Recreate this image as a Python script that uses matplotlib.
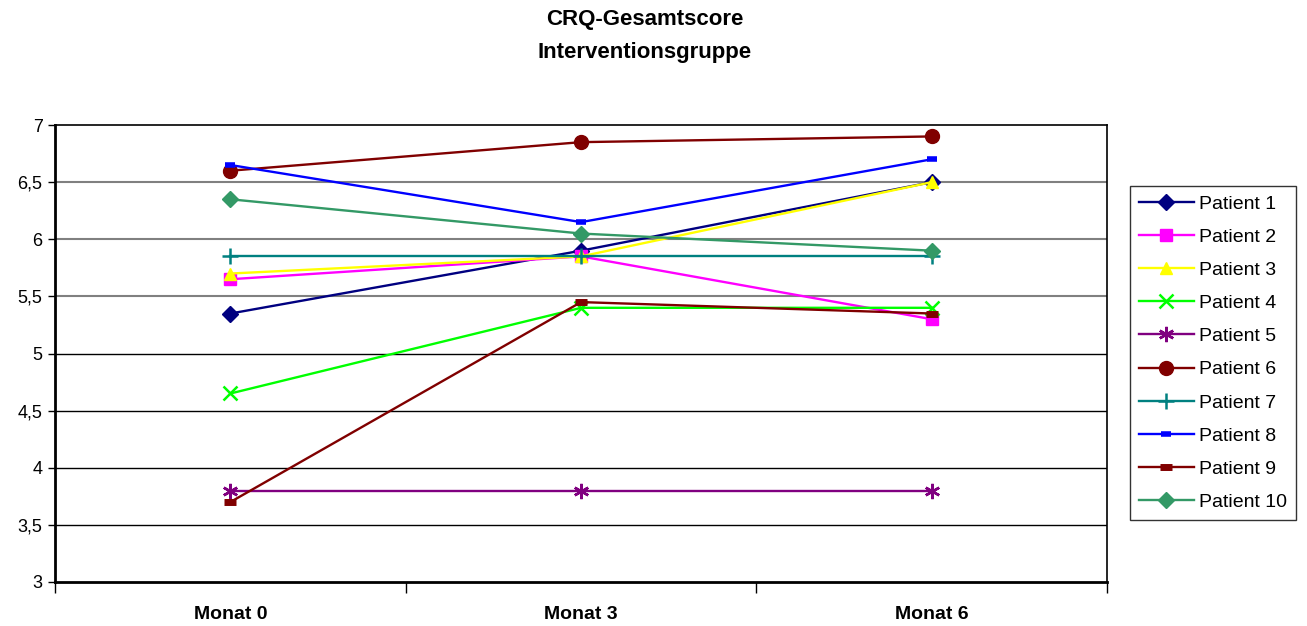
import matplotlib
matplotlib.use("Agg")
import matplotlib.pyplot as plt
from matplotlib.ticker import FuncFormatter, FixedLocator

plt.rcParams['font.family'] = ['Liberation Sans', 'DejaVu Sans']

# CRQ-Gesamtscore je Patient zu den drei Messzeitpunkten
monate = ["Monat 0", "Monat 3", "Monat 6"]
patienten = ["Patient %d" % i for i in range(1, 11)]
p1 = [5.35, 5.9, 6.5]
p2 = [5.65, 5.85, 5.3]
p3 = [5.7, 5.85, 6.5]
p4 = [4.65, 5.4, 5.4]
p5 = [3.8, 3.8, 3.8]
p6 = [6.6, 6.85, 6.9]
p7 = [5.85, 5.85, 5.85]
p8 = [6.65, 6.15, 6.7]
p9 = [3.7, 5.45, 5.35]
p10 = [6.35, 6.05, 5.9]
werte = [p1, p2, p3, p4, p5, p6, p7, p8, p9, p10]

# Excel-Standardfarben und -Markierungen
farben = ["#000080", "#FF00FF", "#FFFF00", "#00FF00", "#800080",
          "#800000", "#008080", "#0000FF", "#800000", "#339966"]
marker = ["D", "s", "^", "x", (6, 2, 0), "o", "+", "_", "_", "D"]
msize = [8, 8, 9, 10, 11, 10, 11, 7, 9, 8]
medge = [1, 1, 1, 1.8, 1.8, 1, 1.8, 4, 5, 1]

fig = plt.figure(figsize=(13.07, 6.26), dpi=100)
ax = fig.add_axes([0.0421, 0.0703, 0.805, 0.730])

x = list(range(len(monate)))
for name, y, c, m, ms, mew in zip(patienten, werte, farben, marker, msize, medge):
    ax.plot(x, y, color=c, lw=1.7, marker=m, markersize=ms,
            markerfacecolor=c, markeredgecolor=c, markeredgewidth=mew,
            label=name, zorder=3)

ax.set_xlim(-0.5, 2.5)
ax.set_ylim(3, 7)
ax.set_yticks([3, 3.5, 4, 4.5, 5, 5.5, 6, 6.5, 7])
ax.yaxis.set_major_formatter(FuncFormatter(lambda v, p: ("%g" % v).replace(".", ",")))

# Gitterlinien
for g in [3.5, 4, 4.5, 5]:
    ax.axhline(g, color="black", lw=1, zorder=1)
for g in [5.5, 6, 6.5]:
    ax.axhline(g, color="#808080", lw=1.5, zorder=1)

ax.set_xticks(x)
ax.set_xticklabels(monate, fontsize=14, fontweight="bold")
ax.xaxis.set_minor_locator(FixedLocator([-0.5, 0.5, 1.5, 2.5]))
ax.tick_params(axis="x", which="major", length=0, pad=17)
ax.tick_params(axis="x", which="minor", length=8, width=1, color="black")
ax.tick_params(axis="y", length=5, width=1, labelsize=13, pad=4)

for s in ax.spines.values():
    s.set_linewidth(1.2)
ax.spines["left"].set_linewidth(2)
ax.spines["bottom"].set_linewidth(2)

leg = ax.legend(loc="upper left", bbox_to_anchor=(1.022, 0.866), fontsize=14,
                frameon=True, fancybox=False, edgecolor="black",
                borderpad=0.45, labelspacing=0.8, handlelength=2.8,
                handletextpad=0.3, borderaxespad=0)
leg.get_frame().set_linewidth(1)

fig.text(0.493, 0.985, "CRQ-Gesamtscore\nInterventionsgruppe", ha="center",
         va="top", fontsize=16, fontweight="bold", linespacing=1.75)

fig.savefig("out.png", dpi=100)
